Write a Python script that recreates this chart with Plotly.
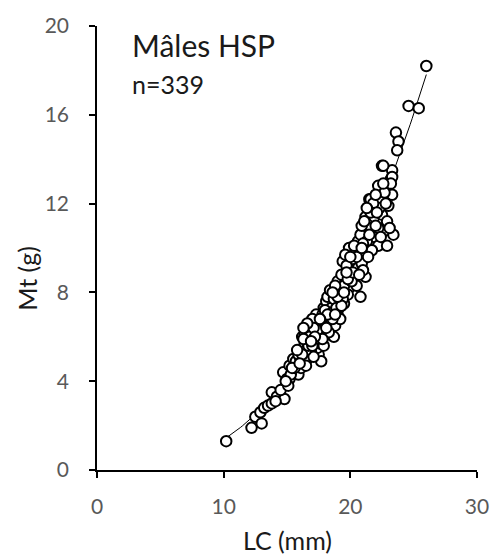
import numpy as np
import plotly.graph_objects as go

# Carapace length LC (mm) and total mass Mt (g)
lc = [10.2, 12.2, 12.5, 13.0, 12.9, 13.2, 13.5, 13.8, 13.8, 14.2, 14.8, 14.5, 14.1,
      14.7, 15.0, 15.2, 15.2, 15.5, 15.9, 15.5, 15.8, 15.3, 15.7, 16.0, 16.3, 16.4, 16.1, 16.6, 15.9, 16.5, 15.6,
      16.8, 16.4, 16.2, 16.4, 16.6, 16.9, 16.7, 17.0, 17.3, 17.2, 17.5, 17.7, 17.4, 17.6, 17.2, 17.5, 17.8, 16.9, 17.1, 16.5, 17.0, 17.3, 17.6, 17.9, 16.8,
      17.9, 18.2, 18.7, 18.0, 18.5, 18.3, 18.1, 18.2, 18.5, 18.7, 19.0, 19.5, 18.4, 18.8, 19.2, 17.8, 18.0, 18.6, 19.1, 18.3, 17.7, 18.9, 18.4,
      19.0, 19.2, 19.9, 20.8, 19.6, 20.3, 21.2, 20.0, 19.4, 20.2, 19.9, 19.5, 19.8, 20.5, 20.6, 19.7, 20.4, 19.3, 20.9, 18.8, 19.4, 20.1, 21.0,
      20.6, 21.1, 20.8, 21.9, 22.2, 22.9, 22.8, 23.4, 22.2, 21.2, 21.9, 22.5, 21.5, 22.4, 23.0, 23.3, 22.2, 23.2, 23.3, 22.5, 22.6, 23.3, 23.2, 21.6, 21.3, 21.6, 20.9, 21.7, 22.0, 22.3, 21.0, 20.5, 22.7, 21.8,
      23.6, 23.8, 23.7, 24.6, 25.4, 26.0,
      15.1, 14.9, 15.4, 16.2, 16.0, 16.7, 16.3, 17.0, 17.4, 17.1, 16.6, 17.8, 18.1, 18.6, 18.9, 19.3,
      19.0, 18.6, 19.5, 19.8, 20.2, 20.7, 19.6, 20.0, 20.3, 20.9, 21.4, 21.5, 21.1, 21.6, 22.1, 22.0,
      22.8, 22.9, 23.1, 22.4, 18.2, 17.6, 17.2, 16.9, 15.8, 16.3, 18.8, 19.7, 21.3, 22.6]
mt = [1.3, 1.9, 2.4, 2.1, 2.6, 2.8, 2.9, 3.0, 3.5, 3.3, 3.2, 3.6, 3.1,
      4.4, 4.1, 4.1, 4.7, 4.4, 4.3, 5.0, 4.7, 4.3, 4.9, 5.1, 5.4, 4.9, 4.6, 5.0, 5.2, 4.7, 4.6,
      5.5, 5.7, 6.0, 6.1, 6.3, 6.5, 5.9, 6.2, 7.0, 5.8, 5.2, 4.9, 5.5, 6.0, 6.6, 6.4, 6.3, 5.3, 5.1, 5.4, 6.8, 6.1, 5.7, 5.6, 6.0,
      7.3, 6.1, 6.0, 6.7, 6.7, 7.0, 7.6, 7.8, 7.3, 7.7, 7.0, 7.5, 6.4, 6.5, 6.8, 7.0, 7.2, 7.1, 7.3, 6.2, 6.8, 7.9, 8.1,
      8.5, 8.0, 8.2, 7.8, 8.6, 8.7, 8.7, 9.0, 9.4, 9.5, 10.0, 8.3, 7.9, 8.3, 9.1, 9.2, 9.8, 8.8, 9.3, 8.3, 7.7, 8.5, 9.0,
      10.3, 9.8, 10.6, 10.5, 10.1, 10.1, 10.8, 10.6, 10.9, 11.4, 11.4, 11.5, 12.2, 12.2, 11.9, 12.4, 12.8, 13.1, 13.5, 13.7, 13.7, 13.2, 12.9, 12.2, 10.3, 10.9, 11.0, 9.9, 11.0, 11.8, 10.2, 9.6, 12.5, 12.0,
      15.2, 14.8, 14.4, 16.4, 16.3, 18.2,
      3.8, 4.0, 4.6, 5.2, 4.8, 5.6, 5.9, 5.6, 6.3, 6.4, 6.6, 5.9, 6.4, 6.8, 7.3, 7.4,
      7.8, 8.0, 8.0, 8.6, 8.9, 8.8, 9.7, 9.6, 10.1, 10.0, 9.6, 10.6, 11.2, 11.6, 11.6, 12.4,
      12.0, 11.2, 10.9, 10.5, 7.0, 6.8, 6.0, 5.8, 5.4, 6.4, 7.0, 8.9, 11.8, 12.9]

x_ticks = [0, 10, 20, 30]
y_ticks = [0, 4, 8, 12, 16, 20]

# Power trendline (like a spreadsheet's) fitted on the data
b, log_a = np.polyfit(np.log(lc), np.log(mt), 1)
fit_x = np.linspace(min(lc), max(lc), 100)
fit_y = np.exp(log_a) * fit_x ** b

FONT = "Lato, 'Open Sans', sans-serif"

fig = go.Figure()
fig.add_trace(go.Scatter(x=fit_x, y=fit_y, mode="lines",
                         line=dict(color="black", width=1), hoverinfo="skip", showlegend=False))
fig.add_trace(go.Scatter(x=lc, y=mt, mode="markers",
                         marker=dict(symbol="circle", size=10.5, color="white",
                                     line=dict(color="black", width=2)),
                         showlegend=False))

axis_common = dict(showgrid=False, zeroline=False, showline=True, linecolor="black", linewidth=1.5,
                   ticks="outside", ticklen=6, tickwidth=1.5, tickcolor="black",
                   tickfont=dict(family=FONT, size=21, color="#595959"))

fig.update_layout(
    width=501, height=558,
    margin=dict(l=97, r=20, t=19, b=88),
    plot_bgcolor="white", paper_bgcolor="white",
    xaxis=dict(range=[0, 30], tickvals=x_ticks, ticklabelstandoff=11, **axis_common),
    yaxis=dict(range=[0, 20], tickvals=y_ticks, ticklabelstandoff=16, **axis_common),
    annotations=[
        dict(text="Mâles HSP", x=0.088, y=0.958, xref="paper", yref="paper", xanchor="left", yanchor="middle",
             showarrow=False, font=dict(family=FONT, size=30, color="#1a1a1a")),
        dict(text="n=339", x=0.088, y=0.869, xref="paper", yref="paper", xanchor="left", yanchor="middle",
             showarrow=False, font=dict(family=FONT, size=25, color="#1a1a1a")),
        dict(text="LC (mm)", x=0.5, y=-0.158, xref="paper", yref="paper", xanchor="center", yanchor="middle",
             showarrow=False, font=dict(family=FONT, size=25, color="#1a1a1a")),
        dict(text="Mt (g)", x=-0.183, y=0.432, xref="paper", yref="paper", xanchor="center", yanchor="middle",
             textangle=-90, showarrow=False, font=dict(family=FONT, size=25, color="#1a1a1a")),
    ],
)

fig.write_html("out.html", config={"displayModeBar": False},
               post_script="document.body.style.margin='0px';document.body.style.overflow='hidden';")
